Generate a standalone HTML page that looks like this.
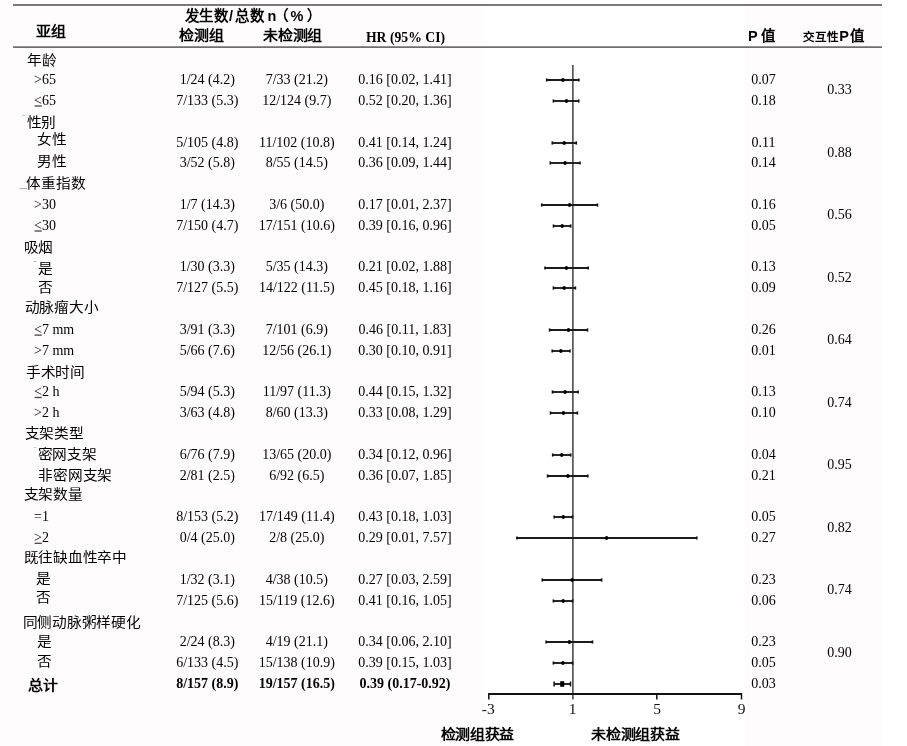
<!DOCTYPE html>
<html lang="zh-CN"><head><meta charset="utf-8"><style>
html,body{margin:0;padding:0;background:#fff;}
svg{display:block;will-change:transform;}
.n{font-family:"Liberation Serif",serif;font-size:14px;fill:#000;}
.nb{font-family:"Liberation Serif",serif;font-size:14px;font-weight:bold;fill:#000;}
.m{text-anchor:middle;}
.zh{font-family:"Liberation Sans",sans-serif;font-size:14.7px;fill:#000;}
.zhb{font-family:"Liberation Serif",serif;font-size:15px;font-weight:bold;fill:#000;}
.hs{font-family:"Liberation Serif",serif;font-size:15px;font-weight:bold;fill:#000;}
.hsans{font-family:"Liberation Sans",sans-serif;font-size:14.5px;font-weight:bold;fill:#000;}
.ax{font-family:"Liberation Serif",serif;font-size:15.5px;fill:#111;text-anchor:middle;}
.ci{stroke:#1c1c1c;stroke-width:1.9;}
.cap{stroke:#111;stroke-width:1.6;}
.capt{stroke:#111;stroke-width:1.5;}
</style></head><body>
<svg width="907" height="746" viewBox="0 0 907 746">
<rect width="907" height="746" fill="#fff"/>
<rect x="0" y="0" width="484" height="746" fill="#fefcfd"/><rect x="746" y="0" width="136" height="746" fill="#fefcfd"/>
<line x1="13" y1="5" x2="882" y2="5" stroke="#7a7a7a" stroke-width="1.8"/>
<line x1="13" y1="47.2" x2="882" y2="47.2" stroke="#6e6e6e" stroke-width="1.8"/>
<text class="hsans" x="184.5 199 214 229 234.5 249.5 267.5 273.6 290.5 306.7" y="20.5">发生数/总数n（%）</text>
<text class="nb m" x="405.5" y="41.8" style="font-size:13.7px">HR (95% CI)</text>
<text class="hsans m" x="761.7" y="41.3">P 值</text>
<text class="hsans" y="41.3"><tspan x="803" style="font-size:11.6px">交互性</tspan><tspan x="839.3">P</tspan><tspan x="850">值</tspan></text>
<line x1="572.9" y1="65" x2="572.9" y2="699.5" stroke="#333" stroke-width="1.4"/>
<line x1="488.8" y1="694" x2="741.5" y2="694" stroke="#111" stroke-width="1.8"/>
<line x1="488.8" y1="693" x2="488.8" y2="699.5" stroke="#111" stroke-width="1.5"/>
<line x1="656.8" y1="693" x2="656.8" y2="699.5" stroke="#111" stroke-width="1.5"/>
<line x1="741.5" y1="693" x2="741.5" y2="699.5" stroke="#111" stroke-width="1.5"/>
<text class="ax" x="488.3" y="713.8">-3</text>
<text class="ax" x="572.6" y="713.8">1</text>
<text class="ax" x="657.2" y="713.8">5</text>
<text class="ax" x="741.7" y="713.8">9</text>
<text class="n" x="34.0" y="84.0">&gt;65</text>
<text class="n m" x="207.3" y="84.0">1/24 (4.2)</text>
<text class="n m" x="296.8" y="84.0">7/33 (21.2)</text>
<text class="n m" x="405.0" y="84.0">0.16 [0.02, 1.41]</text>
<text class="n m" x="763.6" y="84.0">0.07</text>
<line class="ci" x1="546.7" y1="80" x2="578.9" y2="80"/>
<line class="cap" x1="546.7" y1="78.4" x2="546.7" y2="81.6"/>
<line class="cap" x1="578.9" y1="78.4" x2="578.9" y2="81.6"/>
<ellipse cx="562.9" cy="80" rx="1.7" ry="2.1" fill="#000"/>
<text class="n" x="34.0" y="104.8">&lt;65</text>
<line x1="34.6" y1="106.0" x2="41.8" y2="106.0" stroke="#444" stroke-width="1.3"/>
<text class="n m" x="207.3" y="104.8">7/133 (5.3)</text>
<text class="n m" x="296.8" y="104.8">12/124 (9.7)</text>
<text class="n m" x="405.0" y="104.8">0.52 [0.20, 1.36]</text>
<text class="n m" x="763.6" y="104.8">0.18</text>
<line class="ci" x1="553.4" y1="101" x2="578.7" y2="101"/>
<line class="cap" x1="553.4" y1="99.4" x2="553.4" y2="102.6"/>
<line class="cap" x1="578.7" y1="99.4" x2="578.7" y2="102.6"/>
<ellipse cx="566.5" cy="101" rx="1.7" ry="2.1" fill="#000"/>
<text class="n m" x="207.3" y="146.5">5/105 (4.8)</text>
<text class="n m" x="296.8" y="146.5">11/102 (10.8)</text>
<text class="n m" x="405.0" y="146.5">0.41 [0.14, 1.24]</text>
<text class="n m" x="763.6" y="146.5">0.11</text>
<line class="ci" x1="552.3" y1="143" x2="576.3" y2="143"/>
<line class="cap" x1="552.3" y1="141.4" x2="552.3" y2="144.6"/>
<line class="cap" x1="576.3" y1="141.4" x2="576.3" y2="144.6"/>
<ellipse cx="564.2" cy="143" rx="1.7" ry="2.1" fill="#000"/>
<text class="n m" x="207.3" y="167.3">3/52 (5.8)</text>
<text class="n m" x="296.8" y="167.3">8/55 (14.5)</text>
<text class="n m" x="405.0" y="167.3">0.36 [0.09, 1.44]</text>
<text class="n m" x="763.6" y="167.3">0.14</text>
<line class="ci" x1="550.3" y1="163" x2="580.0" y2="163"/>
<line class="cap" x1="550.3" y1="161.4" x2="550.3" y2="164.6"/>
<line class="cap" x1="580.0" y1="161.4" x2="580.0" y2="164.6"/>
<ellipse cx="565.1" cy="163" rx="1.7" ry="2.1" fill="#000"/>
<text class="n" x="34.0" y="208.9">&gt;30</text>
<text class="n m" x="207.3" y="208.9">1/7 (14.3)</text>
<text class="n m" x="296.8" y="208.9">3/6 (50.0)</text>
<text class="n m" x="405.0" y="208.9">0.17 [0.01, 2.37]</text>
<text class="n m" x="763.6" y="208.9">0.16</text>
<line class="ci" x1="541.7" y1="205" x2="597.5" y2="205"/>
<line class="cap" x1="541.7" y1="203.4" x2="541.7" y2="206.6"/>
<line class="cap" x1="597.5" y1="203.4" x2="597.5" y2="206.6"/>
<ellipse cx="569.6" cy="205" rx="1.7" ry="2.1" fill="#000"/>
<text class="n" x="34.0" y="229.8">&lt;30</text>
<line x1="34.6" y1="231.0" x2="41.8" y2="231.0" stroke="#444" stroke-width="1.3"/>
<text class="n m" x="207.3" y="229.8">7/150 (4.7)</text>
<text class="n m" x="296.8" y="229.8">17/151 (10.6)</text>
<text class="n m" x="405.0" y="229.8">0.39 [0.16, 0.96]</text>
<text class="n m" x="763.6" y="229.8">0.05</text>
<line class="ci" x1="553.5" y1="226" x2="570.7" y2="226"/>
<line class="cap" x1="553.5" y1="224.4" x2="553.5" y2="227.6"/>
<line class="cap" x1="570.7" y1="224.4" x2="570.7" y2="227.6"/>
<ellipse cx="562.2" cy="226" rx="1.7" ry="2.1" fill="#000"/>
<text class="n m" x="207.3" y="271.4">1/30 (3.3)</text>
<text class="n m" x="296.8" y="271.4">5/35 (14.3)</text>
<text class="n m" x="405.0" y="271.4">0.21 [0.02, 1.88]</text>
<text class="n m" x="763.6" y="271.4">0.13</text>
<line class="ci" x1="545.0" y1="268" x2="588.2" y2="268"/>
<line class="cap" x1="545.0" y1="266.4" x2="545.0" y2="269.6"/>
<line class="cap" x1="588.2" y1="266.4" x2="588.2" y2="269.6"/>
<ellipse cx="566.4" cy="268" rx="1.7" ry="2.1" fill="#000"/>
<text class="n m" x="207.3" y="292.2">7/127 (5.5)</text>
<text class="n m" x="296.8" y="292.2">14/122 (11.5)</text>
<text class="n m" x="405.0" y="292.2">0.45 [0.18, 1.16]</text>
<text class="n m" x="763.6" y="292.2">0.09</text>
<line class="ci" x1="553.4" y1="288" x2="575.4" y2="288"/>
<line class="cap" x1="553.4" y1="286.4" x2="553.4" y2="289.6"/>
<line class="cap" x1="575.4" y1="286.4" x2="575.4" y2="289.6"/>
<ellipse cx="564.2" cy="288" rx="1.7" ry="2.1" fill="#000"/>
<text class="n" x="34.0" y="333.9">&lt;7 mm</text>
<line x1="34.6" y1="335.1" x2="41.8" y2="335.1" stroke="#444" stroke-width="1.3"/>
<text class="n m" x="207.3" y="333.9">3/91 (3.3)</text>
<text class="n m" x="296.8" y="333.9">7/101 (6.9)</text>
<text class="n m" x="405.0" y="333.9">0.46 [0.11, 1.83]</text>
<text class="n m" x="763.6" y="333.9">0.26</text>
<line class="ci" x1="549.6" y1="330" x2="587.5" y2="330"/>
<line class="cap" x1="549.6" y1="328.4" x2="549.6" y2="331.6"/>
<line class="cap" x1="587.5" y1="328.4" x2="587.5" y2="331.6"/>
<ellipse cx="568.5" cy="330" rx="1.7" ry="2.1" fill="#000"/>
<text class="n" x="34.0" y="354.7">&gt;7 mm</text>
<text class="n m" x="207.3" y="354.7">5/66 (7.6)</text>
<text class="n m" x="296.8" y="354.7">12/56 (26.1)</text>
<text class="n m" x="405.0" y="354.7">0.30 [0.10, 0.91]</text>
<text class="n m" x="763.6" y="354.7">0.01</text>
<line class="ci" x1="552.2" y1="351" x2="569.9" y2="351"/>
<line class="cap" x1="552.2" y1="349.4" x2="552.2" y2="352.6"/>
<line class="cap" x1="569.9" y1="349.4" x2="569.9" y2="352.6"/>
<ellipse cx="560.9" cy="351" rx="1.7" ry="2.1" fill="#000"/>
<text class="n" x="34.0" y="396.3">&lt;2 h</text>
<line x1="34.6" y1="397.5" x2="41.8" y2="397.5" stroke="#444" stroke-width="1.3"/>
<text class="n m" x="207.3" y="396.3">5/94 (5.3)</text>
<text class="n m" x="296.8" y="396.3">11/97 (11.3)</text>
<text class="n m" x="405.0" y="396.3">0.44 [0.15, 1.32]</text>
<text class="n m" x="763.6" y="396.3">0.13</text>
<line class="ci" x1="552.5" y1="392" x2="578.1" y2="392"/>
<line class="cap" x1="552.5" y1="390.4" x2="552.5" y2="393.6"/>
<line class="cap" x1="578.1" y1="390.4" x2="578.1" y2="393.6"/>
<ellipse cx="565.1" cy="392" rx="1.7" ry="2.1" fill="#000"/>
<text class="n" x="34.0" y="417.1">&gt;2 h</text>
<text class="n m" x="207.3" y="417.1">3/63 (4.8)</text>
<text class="n m" x="296.8" y="417.1">8/60 (13.3)</text>
<text class="n m" x="405.0" y="417.1">0.33 [0.08, 1.29]</text>
<text class="n m" x="763.6" y="417.1">0.10</text>
<line class="ci" x1="550.5" y1="413" x2="577.4" y2="413"/>
<line class="cap" x1="550.5" y1="411.4" x2="550.5" y2="414.6"/>
<line class="cap" x1="577.4" y1="411.4" x2="577.4" y2="414.6"/>
<ellipse cx="563.5" cy="413" rx="1.7" ry="2.1" fill="#000"/>
<text class="n m" x="207.3" y="458.8">6/76 (7.9)</text>
<text class="n m" x="296.8" y="458.8">13/65 (20.0)</text>
<text class="n m" x="405.0" y="458.8">0.34 [0.12, 0.96]</text>
<text class="n m" x="763.6" y="458.8">0.04</text>
<line class="ci" x1="552.7" y1="455" x2="570.7" y2="455"/>
<line class="cap" x1="552.7" y1="453.4" x2="552.7" y2="456.6"/>
<line class="cap" x1="570.7" y1="453.4" x2="570.7" y2="456.6"/>
<ellipse cx="561.7" cy="455" rx="1.7" ry="2.1" fill="#000"/>
<text class="n m" x="207.3" y="479.6">2/81 (2.5)</text>
<text class="n m" x="296.8" y="479.6">6/92 (6.5)</text>
<text class="n m" x="405.0" y="479.6">0.36 [0.07, 1.85]</text>
<text class="n m" x="763.6" y="479.6">0.21</text>
<line class="ci" x1="547.6" y1="476" x2="587.8" y2="476"/>
<line class="cap" x1="547.6" y1="474.4" x2="547.6" y2="477.6"/>
<line class="cap" x1="587.8" y1="474.4" x2="587.8" y2="477.6"/>
<ellipse cx="567.9" cy="476" rx="1.7" ry="2.1" fill="#000"/>
<text class="n" x="34.0" y="521.2">=1</text>
<text class="n m" x="207.3" y="521.2">8/153 (5.2)</text>
<text class="n m" x="296.8" y="521.2">17/149 (11.4)</text>
<text class="n m" x="405.0" y="521.2">0.43 [0.18, 1.03]</text>
<text class="n m" x="763.6" y="521.2">0.05</text>
<line class="ci" x1="554.2" y1="517" x2="572.5" y2="517"/>
<line class="cap" x1="554.2" y1="515.4" x2="554.2" y2="518.6"/>
<line class="cap" x1="572.5" y1="515.4" x2="572.5" y2="518.6"/>
<ellipse cx="563.2" cy="517" rx="1.7" ry="2.1" fill="#000"/>
<text class="n" x="34.0" y="542.1">&gt;2</text>
<line x1="34.6" y1="543.3" x2="41.8" y2="543.3" stroke="#444" stroke-width="1.3"/>
<text class="n m" x="207.3" y="542.1">0/4 (25.0)</text>
<text class="n m" x="296.8" y="542.1">2/8 (25.0)</text>
<text class="n m" x="405.0" y="542.1">0.29 [0.01, 7.57]</text>
<text class="n m" x="763.6" y="542.1">0.27</text>
<line class="ci" x1="516.9" y1="538" x2="696.8" y2="538"/>
<line class="cap" x1="516.9" y1="536.4" x2="516.9" y2="539.6"/>
<line class="cap" x1="696.8" y1="536.4" x2="696.8" y2="539.6"/>
<ellipse cx="606.6" cy="538" rx="1.7" ry="2.1" fill="#000"/>
<text class="n m" x="207.3" y="583.7">1/32 (3.1)</text>
<text class="n m" x="296.8" y="583.7">4/38 (10.5)</text>
<text class="n m" x="405.0" y="583.7">0.27 [0.03, 2.59]</text>
<text class="n m" x="763.6" y="583.7">0.23</text>
<line class="ci" x1="542.3" y1="580" x2="601.6" y2="580"/>
<line class="cap" x1="542.3" y1="578.4" x2="542.3" y2="581.6"/>
<line class="cap" x1="601.6" y1="578.4" x2="601.6" y2="581.6"/>
<ellipse cx="572.1" cy="580" rx="1.7" ry="2.1" fill="#000"/>
<text class="n m" x="207.3" y="604.5">7/125 (5.6)</text>
<text class="n m" x="296.8" y="604.5">15/119 (12.6)</text>
<text class="n m" x="405.0" y="604.5">0.41 [0.16, 1.05]</text>
<text class="n m" x="763.6" y="604.5">0.06</text>
<line class="ci" x1="553.4" y1="601" x2="572.6" y2="601"/>
<line class="cap" x1="553.4" y1="599.4" x2="553.4" y2="602.6"/>
<line class="cap" x1="572.6" y1="599.4" x2="572.6" y2="602.6"/>
<ellipse cx="563.2" cy="601" rx="1.7" ry="2.1" fill="#000"/>
<text class="n m" x="207.3" y="646.2">2/24 (8.3)</text>
<text class="n m" x="296.8" y="646.2">4/19 (21.1)</text>
<text class="n m" x="405.0" y="646.2">0.34 [0.06, 2.10]</text>
<text class="n m" x="763.6" y="646.2">0.23</text>
<line class="ci" x1="546.1" y1="642" x2="592.5" y2="642"/>
<line class="cap" x1="546.1" y1="640.4" x2="546.1" y2="643.6"/>
<line class="cap" x1="592.5" y1="640.4" x2="592.5" y2="643.6"/>
<ellipse cx="569.4" cy="642" rx="1.7" ry="2.1" fill="#000"/>
<text class="n m" x="207.3" y="667.0">6/133 (4.5)</text>
<text class="n m" x="296.8" y="667.0">15/138 (10.9)</text>
<text class="n m" x="405.0" y="667.0">0.39 [0.15, 1.03]</text>
<text class="n m" x="763.6" y="667.0">0.05</text>
<line class="ci" x1="553.4" y1="663" x2="572.6" y2="663"/>
<line class="cap" x1="553.4" y1="661.4" x2="553.4" y2="664.6"/>
<line class="cap" x1="572.6" y1="661.4" x2="572.6" y2="664.6"/>
<ellipse cx="562.9" cy="663" rx="1.7" ry="2.1" fill="#000"/>
<text class="nb m" x="207.3" y="687.8">8/157 (8.9)</text>
<text class="nb m" x="296.8" y="687.8">19/157 (16.5)</text>
<text class="nb m" x="405.0" y="687.8">0.39 (0.17-0.92)</text>
<text class="n m" x="763.6" y="687.8">0.03</text>
<line class="ci" x1="554.1" y1="684" x2="570.5" y2="684"/>
<line class="capt" x1="554.1" y1="681.5" x2="554.1" y2="686.5"/>
<line class="capt" x1="570.5" y1="681.5" x2="570.5" y2="686.5"/>
<rect x="560.2" y="681.2" width="4" height="5.6" fill="#000"/>
<text class="n m" x="839.4" y="94.4">0.33</text>
<text class="n m" x="839.4" y="156.9">0.88</text>
<text class="n m" x="839.4" y="219.3">0.56</text>
<text class="n m" x="839.4" y="281.8">0.52</text>
<text class="n m" x="839.4" y="344.3">0.64</text>
<text class="n m" x="839.4" y="406.7">0.74</text>
<text class="n m" x="839.4" y="469.2">0.95</text>
<text class="n m" x="839.4" y="531.6">0.82</text>
<text class="n m" x="839.4" y="594.1">0.74</text>
<text class="n m" x="839.4" y="656.6">0.90</text>
<line x1="19.5" y1="188.6" x2="27" y2="188.6" stroke="#aaa" stroke-width="1"/>
<line x1="22.8" y1="115.5" x2="25" y2="115.5" stroke="#bbb" stroke-width="1"/>
<line x1="33.5" y1="261.5" x2="36.5" y2="261.5" stroke="#bbb" stroke-width="1"/>
<line x1="33.5" y1="447.5" x2="36.5" y2="447.5" stroke="#ccc" stroke-width="1"/>
<text class="zh" transform="translate(27.42,64.90) scale(1,0.9)">年龄</text>
<text class="zh" transform="translate(26.70,127.48) scale(1,0.9)">性别</text>
<text class="zh" transform="translate(37.46,144.06) scale(1,0.9)">女性</text>
<text class="zh" transform="translate(37.46,165.88) scale(1,0.9)">男性</text>
<text class="zh" transform="translate(26.38,187.70) scale(1,0.9)">体重指数</text>
<text class="zh" transform="translate(23.74,251.52) scale(1,0.9)">吸烟</text>
<text class="zh" transform="translate(37.70,272.74) scale(1,0.9)">是</text>
<text class="zh" transform="translate(38.18,291.72) scale(1,0.9)">否</text>
<text class="zh" transform="translate(24.78,312.10) scale(1,0.9)">动脉瘤大小</text>
<text class="zh" transform="translate(26.06,377.44) scale(1,0.9)">手术时间</text>
<text class="zh" transform="translate(24.62,438.10) scale(1,0.9)">支架类型</text>
<text class="zh" transform="translate(37.78,458.76) scale(1,0.9)">密网支架</text>
<text class="zh" transform="translate(38.42,479.50) scale(1,0.9)">非密网支架</text>
<text class="zh" transform="translate(23.66,499.32) scale(1,0.9)">支架数量</text>
<text class="zh" transform="translate(23.74,562.18) scale(1,0.9)">既往缺血性卒中</text>
<text class="zh" transform="translate(36.42,582.60) scale(1,0.9)">是</text>
<text class="zh" transform="translate(36.42,601.58) scale(1,0.9)">否</text>
<text class="zh" transform="translate(22.70,626.60) scale(1,0.9)">同侧动脉粥样硬化</text>
<text class="zh" transform="translate(37.38,646.34) scale(1,0.9)">是</text>
<text class="zh" transform="translate(37.38,666.08) scale(1,0.9)">否</text>
<text class="zhb" transform="translate(28.24,690.46) scale(1,0.9)">总计</text>
<text class="hs" transform="translate(36.00,36.24) scale(1,0.9)">亚组</text>
<text class="hs" transform="translate(179.16,39.64) scale(1,0.9)">检测组</text>
<text class="hs" transform="translate(263.12,39.64) scale(1,0.9)">未检测组</text>
<text class="hs" transform="translate(440.56,739.36) scale(1,0.9)">检测组获益</text>
<text class="hs" transform="translate(591.12,739.36) scale(1,0.9)">未检测组获益</text>
</svg>
</body></html>
